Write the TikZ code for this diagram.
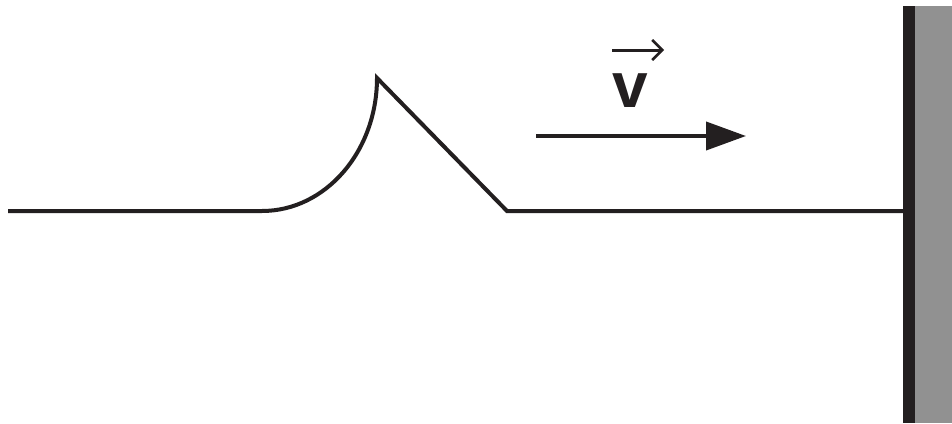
\documentclass[tikz,border=0pt]{standalone}
\usepackage{fontspec}
\setmainfont{Liberation Sans}
\usetikzlibrary{arrows.meta}
\definecolor{ink}{RGB}{35,31,32}
\definecolor{wallgray}{RGB}{145,145,145}
\tikzset{
  rope/.style={draw=ink, line width=4pt, line join=miter},
  bigarrow/.style={draw=ink, line width=4pt, -{Triangle[length=40pt,width=28pt]}},
  vecarrow/.style={draw=ink, line width=3pt, -{Straight Barb[length=10pt,width=20pt,line width=2.5pt]}},
}
\begin{document}
\begin{tikzpicture}[x=1pt,y=-1pt]
\useasboundingbox (0,0) rectangle (952,423);
% wall
\fill[wallgray] (915,6) rectangle (952,423);
\fill[ink] (903,6) rectangle (915,423);
% rope with pulse
\coordinate (start) at (8,211);
\coordinate (foot) at (262,211);
\coordinate (peak) at (377,78);
\coordinate (back) at (507,211);
\coordinate (wall) at (905,211);
\draw[rope] (start) -- (foot) arc[start angle=90, end angle=0, x radius=115, y radius=133] -- (back) -- (wall);
% velocity arrow
\coordinate (va) at (536,136);
\coordinate (vb) at (746,136);
\draw[bigarrow] (va) -- (vb);
% label v with vector arrow
\node[font=\bfseries\fontsize{64}{64}\selectfont, text=ink, inner sep=0pt, anchor=base] (vlab) at (630,107) {v};
\coordinate (vs) at (612,50);
\coordinate (ve) at (664,50);
\draw[vecarrow] (vs) -- (ve);
\end{tikzpicture}
\end{document}
